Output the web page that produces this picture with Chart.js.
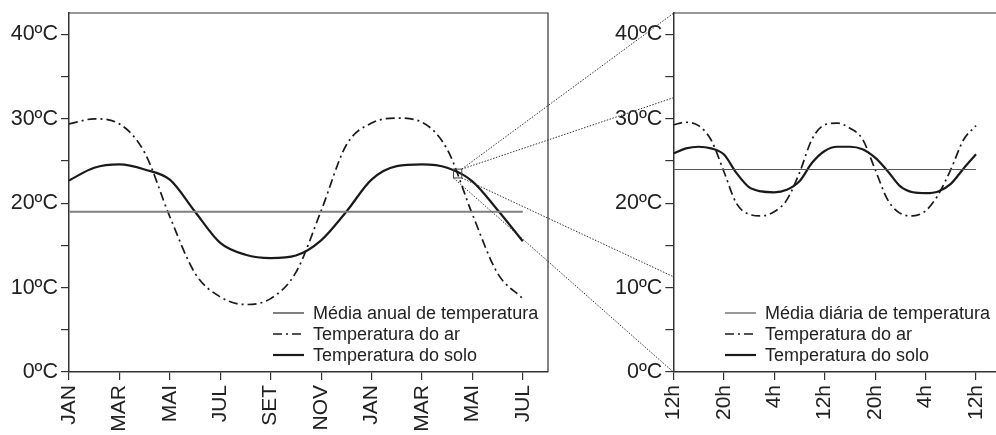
<!DOCTYPE html>
<html>
<head>
<meta charset="utf-8">
<script src="https://cdn.jsdelivr.net/npm/chart.js@4.4.1/dist/chart.umd.min.js"></script>
<style>
  html, body { margin: 0; padding: 0; background: #fff; }
  #wrap { position: relative; width: 996px; height: 435px; overflow: hidden; }
  #wrap canvas { position: absolute; top: 0; }
  #yearChart { left: 0; }
  #dayChart { left: 600px; }
  #links { left: 0; pointer-events: none; }
</style>
</head>
<body>
<div id="wrap">
  <canvas id="yearChart" width="560" height="435"></canvas>
  <canvas id="dayChart" width="400" height="435"></canvas>
  <canvas id="links" width="996" height="435"></canvas>
</div>
<script>
// annual chart (months from JAN of first year)
const months = [0, 1, 2, 3, 4, 5, 6, 7, 8, 9, 10, 11, 12, 13, 14, 15, 16, 17, 18];
const monthTicks = [0, 2, 4, 6, 8, 10, 12, 14, 16, 18];
const monthLabels = ['JAN', 'MAR', 'MAI', 'JUL', 'SET', 'NOV', 'JAN', 'MAR', 'MAI', 'JUL'];
const airYear = [29.4, 30.0, 29.4, 26.0, 18.4, 11.7, 8.9, 8.0, 8.7, 11.8, 19.1, 26.9, 29.5, 30.1, 29.6, 26.4, 18.7, 11.7, 8.7];
const soilYear = [22.7, 24.2, 24.6, 24.0, 22.8, 19.0, 15.3, 13.9, 13.5, 13.8, 15.6, 19.0, 22.8, 24.4, 24.6, 24.2, 22.6, 19.2, 15.5];
const annualMean = 19;

// daily chart (hours from 12h)
const hours = [0, 2, 4, 6, 8, 10, 12, 14, 16, 18, 20, 22, 24, 26, 28, 30, 32, 34, 36, 38, 40, 42, 44, 46, 48];
const hourTicks = [0, 8, 16, 24, 32, 40, 48];
const hourLabels = ['12h', '20h', '4h', '12h', '20h', '4h', '12h'];
const airDay = [29.3, 29.6, 29.2, 27.5, 23.8, 20.0, 18.7, 18.5, 19.0, 20.4, 23.6, 27.6, 29.3, 29.5, 28.9, 27.6, 24.0, 20.4, 18.8, 18.5, 19.1, 21.0, 24.0, 27.5, 29.2];
const soilDay = [25.9, 26.5, 26.7, 26.5, 25.8, 23.6, 21.9, 21.4, 21.3, 21.6, 22.6, 24.8, 26.2, 26.7, 26.7, 26.4, 25.4, 23.8, 22.0, 21.3, 21.2, 21.4, 22.3, 24.1, 25.8];
const dailyMean = 24;

// temperature axis
const tempTicks = [0, 5, 10, 15, 20, 25, 30, 35, 40];
const tempMax = 42.55;

// zoom box on the annual chart and where its lines land on the daily axis
const zoomBox = { x0: 15.25, x1: 15.58, y0: 23.0, y1: 24.05 };
const zoomLinkTemps = [42.5, 32.5, 11.3, 0];

const FONT = "'Liberation Sans', Arial, sans-serif";
const INK = '#222';
const AXIS = '#333';
const DASH_DOT = [9, 4, 2, 4];

function pts(xs, ys) {
  return xs.map((x, i) => ({ x: x, y: ys[i] }));
}

// top and right frame, legend inside the plot, optional zoom box
const decorPlugin = {
  id: 'decor',
  afterDatasetsDraw(chart, args, opts) {
    const ctx = chart.ctx;
    const a = chart.chartArea;
    ctx.save();
    ctx.strokeStyle = AXIS;
    ctx.lineWidth = 1.2;
    ctx.beginPath();
    ctx.moveTo(a.left, a.top);
    ctx.lineTo(a.right, a.top);
    ctx.lineTo(a.right, a.bottom);
    ctx.stroke();

    if (opts.box) {
      const sx = chart.scales.x, sy = chart.scales.y;
      const x0 = sx.getPixelForValue(opts.box.x0), x1 = sx.getPixelForValue(opts.box.x1);
      const y0 = sy.getPixelForValue(opts.box.y0), y1 = sy.getPixelForValue(opts.box.y1);
      ctx.strokeStyle = '#444';
      ctx.lineWidth = 1;
      ctx.strokeRect(x0, y1, x1 - x0, y0 - y1);
    }

    // legend
    ctx.font = '18px ' + FONT;
    ctx.textBaseline = 'middle';
    ctx.fillStyle = INK;
    chart.data.datasets.forEach((ds, i) => {
      const y = opts.legendY + i * opts.rowGap;
      ctx.strokeStyle = ds.borderColor;
      ctx.lineWidth = ds.borderWidth;
      ctx.setLineDash(ds.borderDash || []);
      ctx.beginPath();
      ctx.moveTo(opts.legendX, y);
      ctx.lineTo(opts.legendX + 31, y);
      ctx.stroke();
      ctx.setLineDash([]);
      ctx.fillText(ds.label, opts.legendX + 40, y + 1);
    });
    ctx.restore();
  }
};

function makeOptions(xMax, xTicks, xLabels, yWidth, padRight, decor) {
  return {
    responsive: false,
    animation: false,
    devicePixelRatio: 1,
    layout: { padding: { top: 13, right: padRight, left: 0, bottom: 0 } },
    plugins: { legend: { display: false }, tooltip: { enabled: false }, decor: decor },
    elements: { point: { radius: 0 } },
    scales: {
      x: {
        type: 'linear',
        min: 0,
        max: xMax,
        afterBuildTicks: s => { s.ticks = xTicks.map(v => ({ value: v })); },
        afterFit: s => { s.height = 435 - 372; s.paddingLeft = 0; s.paddingRight = 0; },
        border: { color: AXIS, width: 1.5 },
        grid: { drawOnChartArea: false, tickLength: 8, color: AXIS, lineWidth: 1.2 },
        ticks: {
          autoSkip: false, maxRotation: 90, minRotation: 90, padding: 5,
          color: INK, font: { family: FONT, size: 21 },
          callback: (v, i) => xLabels[i]
        }
      },
      y: {
        min: 0,
        max: tempMax,
        afterBuildTicks: s => { s.ticks = tempTicks.map(v => ({ value: v })); },
        afterFit: s => { s.width = yWidth; s.paddingTop = 0; s.paddingBottom = 0; },
        border: { color: AXIS, width: 1.5 },
        grid: { drawOnChartArea: false, tickLength: 8, color: AXIS, lineWidth: 1.2 },
        ticks: {
          padding: 3, color: INK, font: { family: FONT, size: 21.5 },
          callback: v => (v % 10 === 0 ? v + 'ºC' : '')
        }
      }
    }
  };
}

const yearChart = new Chart(document.getElementById('yearChart'), {
  type: 'line',
  data: {
    datasets: [
      { label: 'Média anual de temperatura', data: pts([0, 18], [annualMean, annualMean]),
        borderColor: '#808080', borderWidth: 2 },
      { label: 'Temperatura do ar', data: pts(months, airYear),
        borderColor: '#1a1a1a', borderWidth: 1.7, borderDash: DASH_DOT, cubicInterpolationMode: 'monotone' },
      { label: 'Temperatura do solo', data: pts(months, soilYear),
        borderColor: '#1a1a1a', borderWidth: 2.2, cubicInterpolationMode: 'monotone' }
    ]
  },
  options: makeOptions(19, monthTicks, monthLabels, 69, 12,
    { legendX: 273, legendY: 313, rowGap: 21, box: zoomBox }),
  plugins: [decorPlugin]
});

const dayChart = new Chart(document.getElementById('dayChart'), {
  type: 'line',
  data: {
    datasets: [
      { label: 'Média diária de temperatura', data: pts([0, 48], [dailyMean, dailyMean]),
        borderColor: '#555', borderWidth: 1.2 },
      { label: 'Temperatura do ar', data: pts(hours, airDay),
        borderColor: '#1a1a1a', borderWidth: 1.7, borderDash: DASH_DOT, cubicInterpolationMode: 'monotone' },
      { label: 'Temperatura do solo', data: pts(hours, soilDay),
        borderColor: '#1a1a1a', borderWidth: 2.2, cubicInterpolationMode: 'monotone' }
    ]
  },
  options: makeOptions(51.8, hourTicks, hourLabels, 73.3, 0,
    { legendX: 125, legendY: 313, rowGap: 21 }),
  plugins: [decorPlugin]
});

// dotted lines joining the zoom box to the daily chart
const lc = document.getElementById('links').getContext('2d');
const ysx = yearChart.scales.x, ysy = yearChart.scales.y;
const bx0 = ysx.getPixelForValue(zoomBox.x0), bx1 = ysx.getPixelForValue(zoomBox.x1);
const byTop = ysy.getPixelForValue(zoomBox.y1), byBot = ysy.getPixelForValue(zoomBox.y0);
const targetX = 600 + dayChart.chartArea.left;
const starts = [[bx1, byTop], [bx1, byTop], [bx1, byBot], [bx0, byBot]];
lc.strokeStyle = '#333';
lc.lineWidth = 1;
lc.setLineDash([1.5, 1.5]);
zoomLinkTemps.forEach((t, i) => {
  lc.beginPath();
  lc.moveTo(starts[i][0], starts[i][1]);
  lc.lineTo(targetX, dayChart.scales.y.getPixelForValue(t));
  lc.stroke();
});
</script>
</body>
</html>
